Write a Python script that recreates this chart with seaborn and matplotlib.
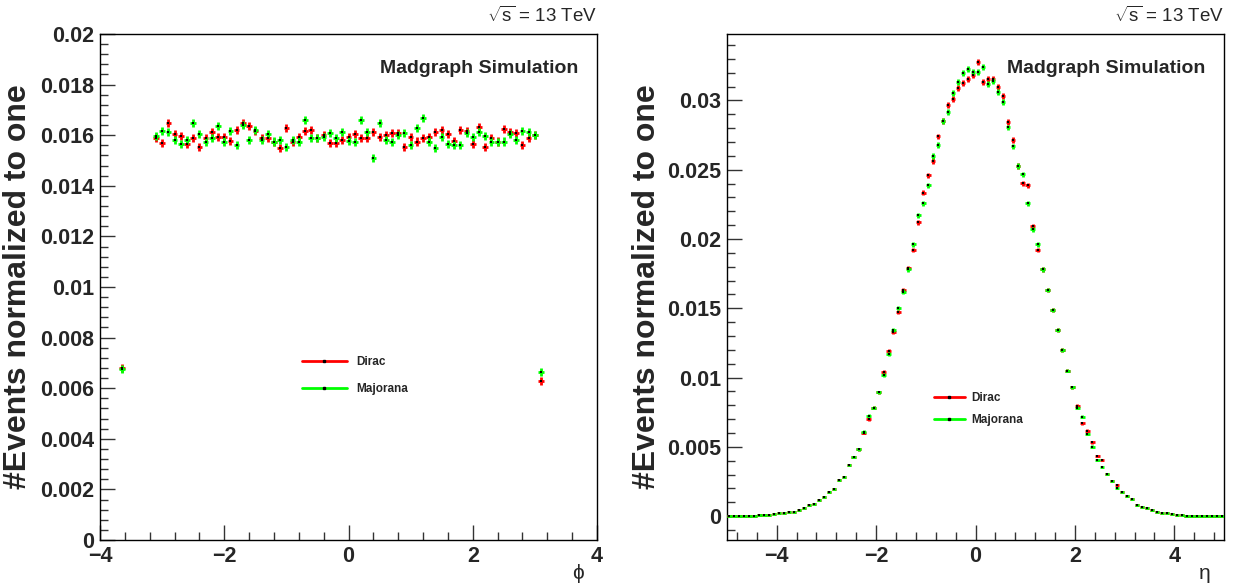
import numpy as np
import pandas as pd
import matplotlib
matplotlib.use("Agg")
import matplotlib.pyplot as plt
from matplotlib.lines import Line2D
from matplotlib.ticker import MultipleLocator, FuncFormatter
import seaborn as sns

# ---------------- data ----------------
# phi distribution: first isolated point, 62 contiguous bins, last edge bin
phi_centers = [-3.65] + [round(-3.1 + 0.1 * i, 2) for i in range(62)] + [3.1]
phi_dirac = [0.00680,
             0.01588, 0.01568, 0.01647, 0.01605, 0.01597, 0.01564, 0.01588, 0.01552,
             0.01588, 0.01614, 0.01594, 0.01594, 0.01577, 0.01621, 0.01647,
             0.01638, 0.01617, 0.01588, 0.01590, 0.01572, 0.01548, 0.01630, 0.01575,
             0.01594, 0.01617, 0.01621, 0.01588, 0.01601, 0.01568, 0.01568, 0.01581,
             0.01594, 0.01604, 0.01588, 0.01588, 0.01612, 0.01594, 0.01601, 0.01608,
             0.01608, 0.01555, 0.01594, 0.01575, 0.01588, 0.01594, 0.01614, 0.01621,
             0.01604, 0.01577, 0.01621, 0.01617, 0.01564, 0.01634, 0.01555, 0.01588,
             0.01575, 0.01625, 0.01614, 0.01608, 0.01561, 0.01588, 0.01601,
             0.00628]
phi_majorana = [0.00675,
                0.01597, 0.01617, 0.01612, 0.01581, 0.01564, 0.01581, 0.01647, 0.01605,
                0.01575, 0.01588, 0.01638, 0.01575, 0.01617, 0.01561, 0.01640,
                0.01581, 0.01621, 0.01581, 0.01604, 0.01575, 0.01581, 0.01555, 0.01581,
                0.01575, 0.01661, 0.01588, 0.01588, 0.01594, 0.01608, 0.01588, 0.01614,
                0.01577, 0.01572, 0.01661, 0.01614, 0.01511, 0.01647, 0.01581, 0.01572,
                0.01601, 0.01608, 0.01561, 0.01627, 0.01667, 0.01575, 0.01551, 0.01594,
                0.01564, 0.01561, 0.01561, 0.01608, 0.01594, 0.01614, 0.01598, 0.01575,
                0.01572, 0.01575, 0.01604, 0.01581, 0.01617, 0.01614, 0.01601,
                0.00664]

# eta distribution: 100 bins of width 0.1 between -5 and 5
eta_centers = [round(-4.95 + 0.1 * i, 2) for i in range(100)]
eta_dirac = [0.00001, 0.00001, 0.00002, 0.00002, 0.00003, 0.00004, 0.00005, 0.00006, 0.00007, 0.00012,
             0.00020, 0.00024, 0.00030, 0.00031, 0.00048, 0.00060, 0.00080, 0.00087, 0.00120, 0.00140,
             0.00174, 0.00198, 0.00260, 0.00284, 0.00369, 0.00425, 0.00482, 0.00600, 0.00700, 0.00784,
             0.00895, 0.01040, 0.01190, 0.01330, 0.01470, 0.01630, 0.01790, 0.01920, 0.02122, 0.02335,
             0.02460, 0.02564, 0.02740, 0.02853, 0.02967, 0.03010, 0.03088, 0.03126, 0.03155, 0.03180,
             0.03276, 0.03131, 0.03155, 0.03155, 0.03095, 0.03030, 0.02846, 0.02716, 0.02528, 0.02402,
             0.02388, 0.02093, 0.01920, 0.01780, 0.01630, 0.01490, 0.01340, 0.01200, 0.01050, 0.00930,
             0.00796, 0.00670, 0.00617, 0.00533, 0.00434, 0.00405, 0.00302, 0.00256, 0.00224, 0.00176,
             0.00145, 0.00121, 0.00080, 0.00067, 0.00060, 0.00043, 0.00031, 0.00024, 0.00020, 0.00014,
             0.00007, 0.00005, 0.00004, 0.00003, 0.00003, 0.00002, 0.00002, 0.00001, 0.00001, 0.00001]
eta_majorana = [0.00001, 0.00001, 0.00002, 0.00002, 0.00003, 0.00004, 0.00005, 0.00006, 0.00007, 0.00012,
                0.00020, 0.00024, 0.00030, 0.00031, 0.00048, 0.00060, 0.00080, 0.00087, 0.00120, 0.00140,
                0.00174, 0.00198, 0.00260, 0.00284, 0.00369, 0.00425, 0.00482, 0.00610, 0.00724, 0.00784,
                0.00895, 0.01020, 0.01170, 0.01340, 0.01500, 0.01620, 0.01780, 0.01961, 0.02170, 0.02258,
                0.02388, 0.02600, 0.02677, 0.02853, 0.02914, 0.03054, 0.03131, 0.03198, 0.03227, 0.03203,
                0.03203, 0.03240, 0.03119, 0.03143, 0.03059, 0.02986, 0.02805, 0.02668, 0.02528, 0.02467,
                0.02258, 0.02070, 0.01961, 0.01780, 0.01630, 0.01490, 0.01340, 0.01200, 0.01050, 0.00930,
                0.00784, 0.00719, 0.00593, 0.00502, 0.00405, 0.00357, 0.00302, 0.00256, 0.00200, 0.00176,
                0.00145, 0.00121, 0.00080, 0.00067, 0.00060, 0.00043, 0.00031, 0.00024, 0.00020, 0.00014,
                0.00007, 0.00005, 0.00004, 0.00003, 0.00003, 0.00002, 0.00002, 0.00001, 0.00001, 0.00001]

series_names = ["Dirac", "Majorana"]
series_colors = ["#ff0000", "#00ff00"]
energy_label = r"$\sqrt{\mathrm{s}}$ = 13 TeV"
sim_label = "Madgraph Simulation"
y_title = "#Events normalized to one"

# ---------------- style ----------------
sns.set_theme(style="white")
plt.rcParams["font.family"] = ["Liberation Sans", "DejaVu Sans"]
plt.rcParams["mathtext.fontset"] = "custom"
plt.rcParams["mathtext.rm"] = "Liberation Sans"
plt.rcParams["mathtext.it"] = "Liberation Sans:italic"

fig = plt.figure(figsize=(12.35, 5.85), dpi=100)
W, H = 1235.0, 585.0
ax1 = fig.add_axes([100 / W, 45 / H, 497 / W, 506 / H])
ax2 = fig.add_axes([727 / W, 45 / H, 497 / W, 506 / H])


def root_fmt(v, pos):
    s = "%g" % round(v, 6)
    return s.replace("-", "\u2212")


def draw_series(ax, x, y, yerr, color, xerr):
    ax.errorbar(x, y, yerr=yerr, xerr=xerr, fmt="none", ecolor=color,
                elinewidth=2.0, capsize=0, zorder=3)
    sns.scatterplot(x=x, y=y, ax=ax, color="black", s=1.5, marker="s",
                    linewidth=0, legend=False, zorder=4)


def style_axes(ax, xmaj, xmin, ymaj, ymin):
    for sp in ax.spines.values():
        sp.set_visible(True)
        sp.set_color("black")
        sp.set_linewidth(1.0)
    ax.xaxis.set_major_locator(MultipleLocator(xmaj))
    ax.xaxis.set_minor_locator(MultipleLocator(xmin))
    ax.yaxis.set_major_locator(MultipleLocator(ymaj))
    ax.yaxis.set_minor_locator(MultipleLocator(ymin))
    ax.xaxis.set_major_formatter(FuncFormatter(root_fmt))
    ax.yaxis.set_major_formatter(FuncFormatter(root_fmt))
    ax.tick_params(which="both", direction="in", top=False, right=False,
                   left=True, bottom=True, color="#333333", width=1.0)
    ax.tick_params(which="major", length=11, labelsize=15.5, pad=4)
    ax.tick_params(which="minor", length=5.5)
    for lab in ax.get_xticklabels() + ax.get_yticklabels():
        lab.set_fontweight("bold")
    ax.set_ylabel(y_title, fontsize=23, fontweight="bold")
    ax.grid(False)


# ---------------- left: phi ----------------
phi_err = 0.00016
for vals, col in zip([phi_dirac, phi_majorana], series_colors):
    draw_series(ax1, phi_centers, vals, phi_err, col, 0.045)
ax1.set_xlim(-4, 4)
ax1.set_ylim(0, 0.02)
style_axes(ax1, 2, 0.4, 0.002, 0.0004)
ax1.yaxis.set_label_coords(-0.135, 0.5)

# ---------------- right: eta ----------------
eta_err_d = [0.00022 * np.sqrt(v / 0.032) for v in eta_dirac]
eta_err_m = [0.00022 * np.sqrt(v / 0.032) for v in eta_majorana]
draw_series(ax2, eta_centers, eta_dirac, eta_err_d, series_colors[0], 0.045)
draw_series(ax2, eta_centers, eta_majorana, eta_err_m, series_colors[1], 0.045)
ax2.set_xlim(-5, 5)
ax2.set_ylim(-0.00172, 0.03479)
style_axes(ax2, 2, 0.4, 0.005, 0.001)
ax2.yaxis.set_label_coords(-0.13, 0.5)

# axis titles
for ax, t in [(ax1, "\u03d5"), (ax2, "\u03b7")]:
    ax.set_xlabel(t, fontsize=15)
    ax.xaxis.set_label_coords(0.962, -0.048)

# texts
for ax in (ax1, ax2):
    ax.text(1.0, 1.036, energy_label, transform=ax.transAxes, ha="right",
            va="center", fontsize=13.5)
    ax.text(0.962, 0.932, sim_label, transform=ax.transAxes, ha="right",
            va="center", fontsize=14, fontweight="bold")

# legends (ROOT style: line with a dot)
handles = [Line2D([], [], color=c, lw=2, marker="s", markersize=1.5,
                  markerfacecolor="black", markeredgecolor="black")
           for c in series_colors]
leg1 = ax1.legend(handles, series_names, loc="upper left",
                  bbox_to_anchor=(0.385, 0.385), frameon=False,
                  handlelength=3.8, labelspacing=1.3, handletextpad=0.8,
                  prop={"weight": "bold", "size": 8.5})
leg2 = ax2.legend(handles, series_names, loc="upper left",
                  bbox_to_anchor=(0.395, 0.314), frameon=False,
                  handlelength=2.6, labelspacing=0.85, handletextpad=0.6,
                  prop={"weight": "bold", "size": 8.5})

fig.savefig("out.png", dpi=100)
